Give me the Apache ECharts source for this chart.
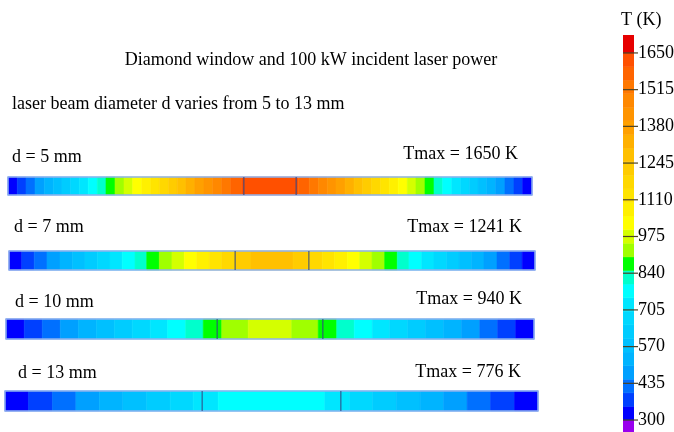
<!DOCTYPE html>
<html>
<head>
<meta charset="utf-8">
<script src="https://cdn.jsdelivr.net/npm/echarts@6/dist/echarts.min.js"></script>
<style>html,body{margin:0;padding:0;background:#fff}#chart{width:674px;height:432px}</style>
</head>
<body>
<div id="chart"></div>
<script>
// discrete temperature scale (K)
var levelEdges = [250,300,350,400,450,500,550,600,650,700,750,800,850,900,950,1000,1050,1100,1150,1200,1250,1300,1350,1400,1450,1500,1550,1600,1650,1720];
var levelColors = ['#9900ee','#0000ff','#0040ff','#0070ff','#00a0ff','#00b4ff','#00c0ff','#00ccff','#00d8ff','#00e6ff',
                   '#00ffff','#00ffcc','#00ff00','#a0ff00','#d4ff00','#ffff00','#fff000','#ffe400','#ffd800','#ffcc00',
                   '#ffc000','#ffb000','#ffa000','#ff9400','#ff8800','#ff7800','#ff6400','#ff5000','#e60000'];
var barTicks = [300,435,570,705,840,975,1110,1245,1380,1515,1650];

var beamDiameters = [5,7,10,13];
var tmaxValues = [1650,1241,940,776];

// position across the window (mm) of each colour band edge, and band temperature (K)
var s1Edges = [-25,-24.11,-23.28,-22.42,-21.54,-20.68,-19.85,-19.02,-18.2,-17.34,-16.48,-15.65,-14.79,-13.93,-13.1,-12.24,-11.38,-10.56,-9.7,-8.85,-8.02,-7.16,-6.3,-5.47,-4.61,-3.75,-2.7,
               2.7,3.75,4.61,5.47,6.3,7.16,8.02,8.85,9.7,10.56,11.38,12.24,13.1,13.93,14.79,15.65,16.48,17.34,18.2,19.02,19.85,20.68,21.54,22.42,23.28,24.11,25];
var s1Temps = [325,375,425,475,525,575,625,675,725,775,825,875,925,975,1025,1075,1125,1175,1225,1275,1325,1375,1425,1475,1525,1575,
               1640,
               1575,1525,1475,1425,1375,1325,1275,1225,1175,1125,1075,1025,975,925,875,825,775,725,675,625,575,525,475,425,375,325];

var s2Edges = [-25,-23.79,-22.6,-21.39,-20.15,-18.98,-17.78,-16.61,-15.4,-14.23,-13.02,-11.91,-10.71,-9.51,-8.34,-7.16,-5.96,-4.78,-3.42,-2.0,
               2.0,3.42,4.78,5.96,7.16,8.34,9.51,10.71,11.91,13.02,14.23,15.4,16.61,17.78,18.98,20.15,21.39,22.6,23.79,25];
var s2Temps = [325,375,425,475,525,575,625,675,725,775,825,875,925,975,1025,1075,1125,1175,1225,
               1270,
               1225,1175,1125,1075,1025,975,925,875,825,775,725,675,625,575,525,475,425,375,325];

var s3Edges = [-25,-23.27,-21.56,-19.86,-18.15,-16.45,-14.74,-13.04,-11.34,-9.69,-7.98,-6.32,-4.57,-2.06,
               2.06,4.57,6.32,7.98,9.69,11.34,13.04,14.74,16.45,18.15,19.86,21.56,23.27,25];
var s3Temps = [325,375,425,475,525,575,625,675,725,775,825,875,925,
               960,
               925,875,825,775,725,675,625,575,525,475,425,375,325];

var s4Edges = [-25,-22.8,-20.55,-18.35,-16.15,-13.95,-11.7,-9.5,-7.35,-5.0,
               5.0,7.35,9.5,11.7,13.95,16.15,18.35,20.55,22.8,25];
var s4Temps = [325,375,425,475,525,575,625,675,725,
               776,
               725,675,625,575,525,475,425,375,325];

var stripEdges = [s1Edges, s2Edges, s3Edges, s4Edges];
var stripTemps = [s1Temps, s2Temps, s3Temps, s4Temps];

var serif = 'Liberation Serif';

function colorOf(t) {
    for (var i = 0; i < levelColors.length; i++) {
        if (t < levelEdges[i + 1]) return levelColors[i];
    }
    return levelColors[levelColors.length - 1];
}

var myChart = echarts.init(document.getElementById('chart'));

// strip boxes on the page
var stripBoxes = [
    {left: 8, top: 177, width: 524, height: 18},
    {left: 9, top: 251, width: 526, height: 19},
    {left: 6, top: 319, width: 528, height: 20},
    {left: 5, top: 391, width: 533, height: 20}
];

var grids = [], xAxes = [], yAxes = [], series = [];

stripBoxes.forEach(function (box, k) {
    grids.push({left: box.left, top: box.top, width: box.width, height: box.height,
                containLabel: false, outerBoundsMode: 'none'});
    xAxes.push({type: 'value', gridIndex: k, min: -25, max: 25, show: false});
    yAxes.push({type: 'value', gridIndex: k, min: 0, max: 1, show: false});

    var cells = [];
    var e = stripEdges[k], t = stripTemps[k];
    for (var i = 0; i < t.length; i++) cells.push([e[i], e[i + 1], t[i]]);

    series.push({
        type: 'custom',
        xAxisIndex: k, yAxisIndex: k,
        silent: true,
        data: cells,
        renderItem: function (params, api) {
            var a = api.coord([api.value(0), 1]);
            var b = api.coord([api.value(1), 0]);
            var c = colorOf(api.value(2));
            return {
                type: 'rect',
                shape: {x: a[0], y: a[1], width: b[0] - a[0], height: b[1] - a[1]},
                style: {fill: c, stroke: c, lineWidth: 0.6}
            };
        }
    });

    // frame and beam edge lines
    var r = beamDiameters[k] / 2;
    series.push({
        type: 'custom',
        xAxisIndex: k, yAxisIndex: k,
        silent: true,
        z: 3,
        data: [[-25, 25, -r, r]],
        renderItem: function (params, api) {
            var a = api.coord([api.value(0), 1]);
            var b = api.coord([api.value(1), 0]);
            var l1 = api.coord([api.value(2), 1]);
            var l2 = api.coord([api.value(3), 1]);
            return {
                type: 'group',
                children: [
                    {type: 'rect', shape: {x: a[0], y: a[1], width: b[0] - a[0], height: b[1] - a[1]},
                     style: {fill: null, stroke: '#8fb2ee', lineWidth: 1.5}},
                    {type: 'line', shape: {x1: l1[0], y1: a[1], x2: l1[0], y2: b[1]},
                     style: {stroke: 'rgba(50,70,130,0.65)', lineWidth: 1.6}},
                    {type: 'line', shape: {x1: l2[0], y1: a[1], x2: l2[0], y2: b[1]},
                     style: {stroke: 'rgba(50,70,130,0.65)', lineWidth: 1.6}}
                ]
            };
        }
    });
});

// colour bar
var bands = [];
for (var i = 0; i < levelColors.length; i++) bands.push([levelEdges[i], levelEdges[i + 1], i]);

grids.push({left: 623, top: 35, width: 11, height: 397, containLabel: false, outerBoundsMode: 'none'});
xAxes.push({type: 'value', gridIndex: 4, min: 0, max: 1, show: false});
yAxes.push({
    type: 'value', gridIndex: 4, min: 256, max: 1716, position: 'right',
    axisLine: {show: false},
    splitLine: {show: false},
    axisTick: {show: false},
    axisLabel: {show: true, customValues: barTicks, margin: 4, color: '#000', fontFamily: serif, fontSize: 18,
                formatter: function (v) { return String(v); }}
});
series.push({
    type: 'custom',
    xAxisIndex: 4, yAxisIndex: 4,
    silent: true,
    clip: true,
    data: bands,
    renderItem: function (params, api) {
        var a = api.coord([0, api.value(1)]);
        var b = api.coord([1, api.value(0)]);
        var c = levelColors[api.value(2)];
        return {
            type: 'rect',
            shape: {x: a[0], y: a[1], width: b[0] - a[0], height: b[1] - a[1]},
            style: {fill: c, stroke: c, lineWidth: 0.5}
        };
    }
});
// tick marks crossing the bar
series.push({
    type: 'custom',
    xAxisIndex: 4, yAxisIndex: 4,
    silent: true,
    z: 4,
    data: barTicks.map(function (v) { return [0, v]; }),
    renderItem: function (params, api) {
        var a = api.coord([0, api.value(1)]);
        var b = api.coord([1, api.value(1)]);
        return {
            type: 'line',
            shape: {x1: a[0], y1: a[1], x2: b[0] + 4, y2: b[1]},
            style: {stroke: '#4a4225', lineWidth: 1.2}
        };
    }
});

function txt(x, y, s, align) {
    return {type: 'text', x: x, y: y, silent: true,
            style: {text: s, fill: '#000', font: '18px "' + serif + '"', textAlign: align || 'left', textVerticalAlign: 'middle'}};
}

option = {
    animation: false,
    backgroundColor: '#fff',
    grid: grids,
    xAxis: xAxes,
    yAxis: yAxes,
    series: series,
    graphic: [
        txt(311, 60, 'Diamond window and 100 kW incident laser power', 'center'),
        txt(12, 104, 'laser beam diameter d varies from 5 to 13 mm'),
        txt(12, 157, 'd = ' + beamDiameters[0] + ' mm'),
        txt(518, 154, 'Tmax = ' + tmaxValues[0] + ' K', 'right'),
        txt(14, 227, 'd = ' + beamDiameters[1] + ' mm'),
        txt(522, 227, 'Tmax = ' + tmaxValues[1] + ' K', 'right'),
        txt(15, 302, 'd = ' + beamDiameters[2] + ' mm'),
        txt(522, 299, 'Tmax = ' + tmaxValues[2] + ' K', 'right'),
        txt(18, 373, 'd = ' + beamDiameters[3] + ' mm'),
        txt(521, 372, 'Tmax = ' + tmaxValues[3] + ' K', 'right'),
        txt(621, 20, 'T (K)')
    ]
};

myChart.setOption(option);
</script>
</body>
</html>
